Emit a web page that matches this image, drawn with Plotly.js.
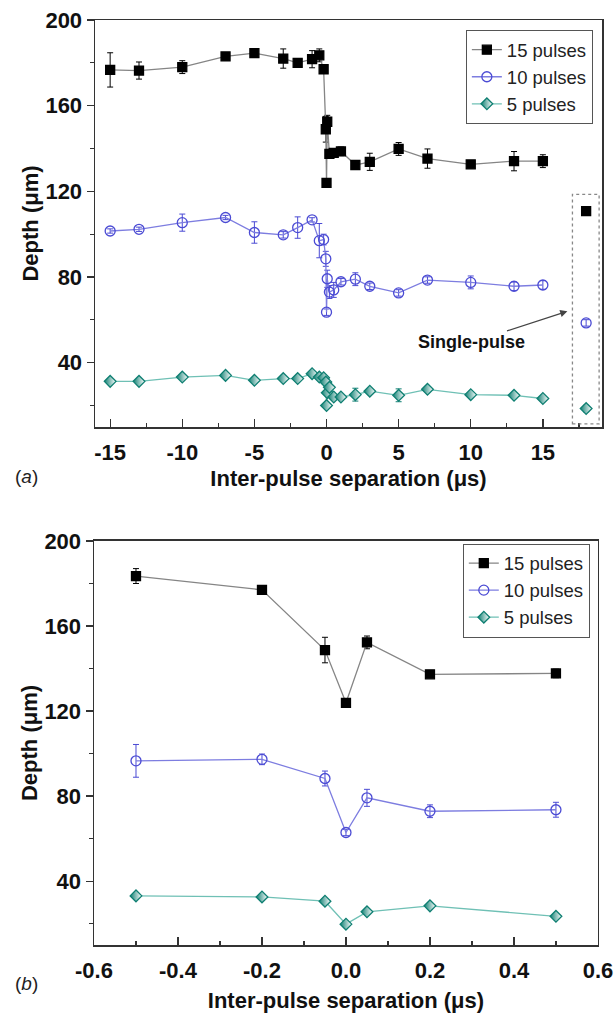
<!DOCTYPE html>
<html><head><meta charset="utf-8">
<script src="https://cdn.plot.ly/plotly-3.0.1.min.js"></script>
<style>html,body{margin:0;padding:0;background:#fff}#chart{width:614px;height:1016px}</style>
</head><body><div id="chart"></div>
<script>
// ---- Panel (a) data ----
const xA = [-15,-13,-10,-7,-5,-3,-2,-1,-0.5,-0.2,-0.05,0,0.05,0.2,0.5,1,2,3,5,7,10,13,15];
const d15A = [176.7,176.4,178,183,184.5,182,180,181.7,183.5,177,149,124,152.5,137.5,138,138.7,132.3,133.8,139.8,135.3,132.6,134.1,134.1];
const e15A = [8,4,3,1.5,1,4.5,1,4,3,1.5,6,2,3,1.5,2,2,1.5,4,3,4.5,1.5,4.5,3];
const d10A = [101.5,102.3,105.4,107.8,100.8,99.7,103.1,106.7,97,97.5,88.5,63.6,79.2,73,74,77.8,79,75.7,72.6,78.6,77.5,75.7,76.3];
const e10A = [1,1,4,1,5,1.5,5,1,8,2.5,3.5,1.5,4,3,3.5,1.5,3,1.5,1.5,1.5,3,2,2];
const d5A = [31.3,31.3,33.3,34.1,31.8,32.6,32.6,34.9,33.3,33,31,20,26,28.5,24,24,25.1,26.7,24.8,27.6,25.1,24.8,23.3];
const e5A = [1,1,1,1,1,1,1,1,1,1,1,1,1,1,1,1,3,1,3,1,1,1,1];
const xSingle = [18];
const single15 = [110.8], single10 = [58.6], single5 = [18.6];
const singleErr = [1.5];

// ---- Panel (b) data ----
const xB = [-0.5,-0.2,-0.05,0,0.05,0.2,0.5];
const d15B = [183.5,177,148.7,123.9,152.3,137.3,137.7];
const e15B = [3.5,1,6,1.5,3,1,2];
const d10B = [96.6,97.3,88.3,62.9,79.2,72.9,73.6];
const e10B = [7.7,2.5,3.5,1.5,4,3,3.5];
const d5B = [33.1,32.6,30.6,19.8,25.6,28.4,23.5];
const e5B = [0.8,0.8,0.8,0.8,0.8,0.8,0.8];

const names = ['15 pulses','10 pulses','5 pulses'];
const tickX_A = [-15,-10,-5,0,5,10,15];
const tickX_B = [-0.6,-0.4,-0.2,0.0,0.2,0.4,0.6];
const tickY = [40,80,120,160,200];

const C15 = {m:'#000000', l:'#858585'};
const C10 = {m:'#4b4bd4', l:'#7d7de0'};
const C5  = {m:'#0f7f72', l:'#6fc0b5'};

const FF = 'Liberation Sans, Arial, sans-serif';

function series(x, y, e, name, c, sym, size, xa, ya, showleg, lines) {
  const mk = {symbol: sym, size: size, color: c.m, line:{color:c.m, width:1.3}};
  if (sym === 'diamond') { mk.gradient = {type:'horizontal', color:'#ffffff'}; }
  return {x:x, y:y, name:name, type:'scatter', mode: lines ? 'lines+markers' : 'markers',
    xaxis:xa, yaxis:ya, showlegend:showleg, legendgroup:name,
    line:{color:c.l, width:1.3}, marker:mk,
    error_y:{type:'data', array:e, visible:true, color:c.m, thickness:1, width:3}};
}

const traces = [
  series(xA,d15A,e15A,names[0],C15,'square',9,'x','y',true,true),
  series(xA,d10A,e10A,names[1],C10,'circle-open',10,'x','y',true,true),
  series(xA,d5A,e5A,names[2],C5,'diamond',9,'x','y',true,true),
  series(xSingle,single15,singleErr,names[0],C15,'square',9,'x','y',false,false),
  series(xSingle,single10,singleErr,names[1],C10,'circle-open',10,'x','y',false,false),
  series(xSingle,single5,singleErr,names[2],C5,'diamond',9,'x','y',false,false),
  series(xB,d15B,e15B,names[0],C15,'square',9,'x2','y2',true,true),
  series(xB,d10B,e10B,names[1],C10,'circle-open',10,'x2','y2',true,true),
  series(xB,d5B,e5B,names[2],C5,'diamond',9,'x2','y2',true,true)
];
traces[6].legend = 'legend2'; traces[7].legend = 'legend2'; traces[8].legend = 'legend2';

const tickFont = {family:FF, size:22, color:'#111'};
const titleFont = {family:FF, size:22, color:'#111'};
const axLine = {showline:true, mirror:true, linecolor:'#333', linewidth:1.5, showgrid:false, zeroline:false};

function yax(domain, anchor) {
  return Object.assign({}, axLine, {domain:domain, anchor:anchor, range:[10,200], tickmode:'array',
    tickvals:tickY, ticktext:tickY.map(v=>'<b>'+v+'</b>'),
    ticks:'outside', ticklen:7, tickwidth:1.3, tickcolor:'#333', tickfont:tickFont,
    minor:{ticks:'outside', ticklen:4, tickwidth:1.2, tickcolor:'#333', tickvals:[20,60,100,140,180]},
    title:{text:'<b>Depth (μm)</b>', font:titleFont, standoff:0}});
}
function xax(domain, anchor, range, vals, txt, minorDt, standoff) {
  return Object.assign({}, axLine, {domain:domain, anchor:anchor, range:range, tickmode:'array',
    tickvals:vals, ticktext:txt,
    ticks:'inside', ticklen:8, tickwidth:1.3, tickcolor:'#333', tickfont:tickFont, ticklabelstandoff:5,
    minor:{ticks:'inside', ticklen:4, tickwidth:1.2, tickcolor:'#333', dtick:minorDt, tick0:0},
    title:{text:'<b>Inter-pulse separation (μs)</b>', font:titleFont, standoff:standoff}});
}
function legendAt(x, y) {
  return {x:x, y:y, xref:'paper', yref:'paper', xanchor:'right', yanchor:'top',
    bordercolor:'#555', borderwidth:1, bgcolor:'#fff', font:{family:FF, size:18.5, color:'#222'},
    tracegroupgap:0, itemwidth:30};
}

const layout = {
  width:614, height:1016, paper_bgcolor:'#fff', plot_bgcolor:'#fff',
  margin:{l:94, r:12, t:20, b:71},
  font:{family:FF},
  xaxis: xax([0.002,1], 'y', [-16.05,19.1], tickX_A, tickX_A.map(v=>'<b>'+v+'</b>'), 2.5, 6),
  yaxis: yax([0.56,1],'x'),
  xaxis2: xax([0,0.992], 'y2', [-0.6,0.6], tickX_B, tickX_B.map(v=>'<b>'+v.toFixed(1)+'</b>'), 0.1, 10),
  yaxis2: yax([0,0.4368],'x2'),
  legend: legendAt(0.982, 0.989),
  legend2: legendAt(0.976, 0.434),
  shapes:[{type:'rect', xref:'x', yref:'y', x0:17.05, x1:18.9, y0:11.5, y1:118.6,
    line:{color:'#888', width:1.3, dash:'dot'}}],
  annotations:[
    {xref:'x', yref:'y', x:16.7, y:64, ax:-96, ay:31, text:'<b>Single-pulse</b>', showarrow:true,
     arrowhead:2, arrowsize:1.2, arrowwidth:1.2, arrowcolor:'#444', font:{family:FF, size:18, color:'#111'}},
    {xref:'paper', yref:'paper', x:-0.16, y:0.506, text:'(<i>a</i>)', showarrow:false, font:{family:FF, size:19, color:'#222'}},
    {xref:'paper', yref:'paper', x:-0.16, y:-0.055, text:'(<i>b</i>)', showarrow:false, font:{family:FF, size:19, color:'#222'}}
  ]
};

Plotly.newPlot('chart', traces, layout, {displayModeBar:false, staticPlot:true});
</script></body></html>
